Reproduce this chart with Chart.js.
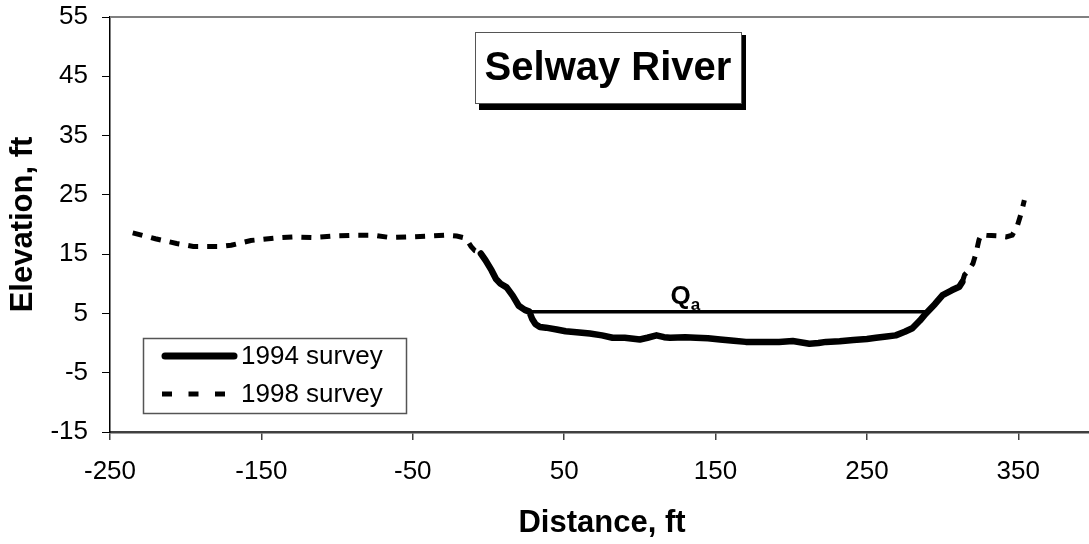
<!DOCTYPE html>
<html>
<head>
<meta charset="utf-8">
<title>Selway River</title>
<script src="https://cdn.jsdelivr.net/npm/chart.js@4.4.1/dist/chart.umd.min.js"></script>
<style>
  html, body { margin: 0; padding: 0; background: #fff; overflow: hidden; }
  #wrap { width: 1089px; height: 544px; overflow: hidden; }
  canvas { display: block; }
</style>
</head>
<body>
<div id="wrap"><canvas id="sectionChart" width="1094" height="544"></canvas></div>
<script>
// Cross-section surveys: distance (ft) and elevation (ft)
const dist1994 = [-5, -2, 2, 5, 8, 12, 16, 20, 24, 27, 29, 31, 34, 38, 45, 51, 60, 67, 75, 82, 90, 100, 105, 111, 116, 120, 130, 137, 145, 153, 162, 170, 180, 192, 201, 207, 212, 218, 223, 232, 241, 250, 256, 263, 269, 275, 280, 285, 289, 295, 300, 306, 311, 313];
const elev1994 = [15.1, 14.0, 12.3, 10.8, 10.0, 9.4, 8.0, 6.3, 5.6, 5.3, 4.0, 3.2, 2.7, 2.6, 2.3, 2.0, 1.8, 1.6, 1.3, 0.9, 0.9, 0.6, 0.9, 1.3, 1.0, 0.9, 1.0, 0.9, 0.8, 0.6, 0.4, 0.2, 0.2, 0.2, 0.35, 0.1, -0.1, 0.0, 0.2, 0.3, 0.5, 0.7, 0.9, 1.1, 1.3, 1.9, 2.5, 3.8, 5.0, 6.6, 8.1, 8.9, 9.5, 10.3];

// 1998 only shows on the banks; the null splits the line across the channel
const dist1998 = [-235, -220, -206, -195, -177, -170, -157, -142, -129, -116, -103, -87, -76, -65, -52, -39, -28, -21, -15, -11.5, -9, -4, 150, 313, 314.5, 317, 320, 322, 324, 325.5, 329, 336, 342, 346, 349.5, 352, 354];
const elev1998 = [18.6, 17.6, 16.8, 16.3, 16.3, 16.5, 17.3, 17.7, 17.9, 17.8, 18.05, 18.2, 18.2, 17.8, 17.9, 18.05, 18.2, 18.05, 17.7, 16.3, 15.6, 15.2, null, 10.3, 11.5, 12.2, 13.4, 15.1, 17.4, 18.3, 18.2, 18.1, 17.9, 18.2, 19.9, 22.0, 24.1];

// Qa water surface
const qaDist = [27, 289];
const qaElev = [5.3, 5.3];
const qaLabelDist = 130;

const xTicks = [-250, -150, -50, 50, 150, 250, 350];
const yTicks = [-15, -5, 5, 15, 25, 35, 45, 55];

const FONT = "'Liberation Sans', Arial, sans-serif";

function toPoints(xs, ys) {
  return xs.map((x, i) => ({ x: x, y: ys[i] }));
}

const decorations = {
  id: 'decorations',
  afterDraw(chart) {
    const { ctx, chartArea: area, scales } = chart;
    ctx.save();

    // top frame
    ctx.strokeStyle = '#808080';
    ctx.lineWidth = 2;
    ctx.beginPath();
    ctx.moveTo(area.left, area.top);
    ctx.lineTo(area.right, area.top);
    ctx.stroke();

    // title box with drop shadow
    ctx.fillStyle = '#000';
    ctx.fillRect(479, 35, 267, 75);
    ctx.fillStyle = '#fff';
    ctx.fillRect(475, 32, 267, 72);
    ctx.strokeStyle = '#555';
    ctx.lineWidth = 1;
    ctx.strokeRect(475.5, 32.5, 266, 71);
    ctx.fillStyle = '#000';
    ctx.font = 'bold 40px ' + FONT;
    ctx.textAlign = 'center';
    ctx.textBaseline = 'alphabetic';
    ctx.fillText('Selway River', 608, 80);

    // Qa label above the water line
    const qx = scales.x.getPixelForValue(qaLabelDist);
    const qy = scales.y.getPixelForValue(qaElev[0]);
    ctx.textAlign = 'left';
    ctx.font = 'bold 26px ' + FONT;
    const qw = ctx.measureText('Q').width;
    ctx.font = 'bold 17px ' + FONT;
    const aw = ctx.measureText('a').width;
    const startX = qx - (qw + aw) / 2;
    ctx.font = 'bold 26px ' + FONT;
    ctx.fillText('Q', startX, qy - 8);
    ctx.font = 'bold 17px ' + FONT;
    ctx.fillText('a', startX + qw, qy - 2);

    // legend
    ctx.fillStyle = '#fff';
    ctx.fillRect(143, 338, 264, 76);
    ctx.strokeStyle = '#555';
    ctx.lineWidth = 1.5;
    ctx.strokeRect(143.5, 338.5, 263, 75);
    const rows = [356, 394];
    chart.data.datasets.slice(0, 2).forEach((ds, i) => {
      const ly = rows[i];
      ctx.strokeStyle = ds.borderColor;
      ctx.lineWidth = i === 0 ? 7 : 5;
      ctx.lineCap = i === 0 ? 'round' : 'butt';
      ctx.setLineDash(i === 0 ? [] : [10, 16.5]);
      ctx.beginPath();
      ctx.moveTo(i === 0 ? 165 : 162, ly);
      ctx.lineTo(i === 0 ? 234 : 236, ly);
      ctx.stroke();
      ctx.setLineDash([]);
      ctx.fillStyle = '#000';
      ctx.font = '26px ' + FONT;
      ctx.textBaseline = 'middle';
      ctx.fillText(ds.label, 241, ly + 1);
    });

    ctx.restore();
  }
};

const ctx = document.getElementById('sectionChart').getContext('2d');
new Chart(ctx, {
  type: 'scatter',
  data: {
    datasets: [
      {
        label: '1994 survey',
        data: toPoints(dist1994, elev1994),
        showLine: true,
        borderColor: '#000',
        borderWidth: 6.5,
        borderJoinStyle: 'round',
        borderCapStyle: 'round',
        pointRadius: 0
      },
      {
        label: '1998 survey',
        data: toPoints(dist1998, elev1998),
        showLine: true,
        spanGaps: false,
        borderColor: '#000',
        borderWidth: 5,
        borderDash: [10, 9],
        pointRadius: 0
      },
      {
        label: 'Qa',
        data: toPoints(qaDist, qaElev),
        showLine: true,
        borderColor: '#000',
        borderWidth: 3.5,
        pointRadius: 0
      }
    ]
  },
  options: {
    responsive: false,
    animation: false,
    layout: { padding: { top: 17, left: 0, right: 0, bottom: 0 } },
    plugins: {
      legend: { display: false },
      tooltip: { enabled: false }
    },
    scales: {
      x: {
        type: 'linear',
        min: -250,
        max: 400,
        afterBuildTicks: (scale) => { scale.ticks = xTicks.map(v => ({ value: v })); },
        afterFit: (scale) => {
          scale.height = 112;
          scale.paddingLeft = 0;
          scale.paddingRight = 0;
        },
        ticks: { font: { family: FONT, size: 26 }, color: '#000', padding: 16 },
        grid: { drawOnChartArea: false, tickLength: 8, color: '#404040', lineWidth: 1.5 },
        border: { color: '#404040', width: 2.5 },
        title: {
          display: true,
          text: 'Distance, ft',
          color: '#000',
          font: { family: FONT, size: 31, weight: 'bold' },
          padding: { top: 0, bottom: 2 }
        }
      },
      y: {
        type: 'linear',
        min: -15,
        max: 55,
        afterBuildTicks: (scale) => { scale.ticks = yTicks.map(v => ({ value: v })); },
        afterFit: (scale) => {
          scale.width = 110;
          scale.paddingTop = 0;
          scale.paddingBottom = 0;
        },
        ticks: { font: { family: FONT, size: 26 }, color: '#000', padding: 14 },
        grid: { drawOnChartArea: false, tickLength: 8, color: '#000', lineWidth: 1 },
        border: { color: '#000', width: 1.5 },
        title: {
          display: true,
          text: 'Elevation, ft',
          color: '#000',
          font: { family: FONT, size: 31, weight: 'bold' },
          padding: { top: 5, bottom: 0 }
        }
      }
    }
  },
  plugins: [decorations]
});
</script>
</body>
</html>
